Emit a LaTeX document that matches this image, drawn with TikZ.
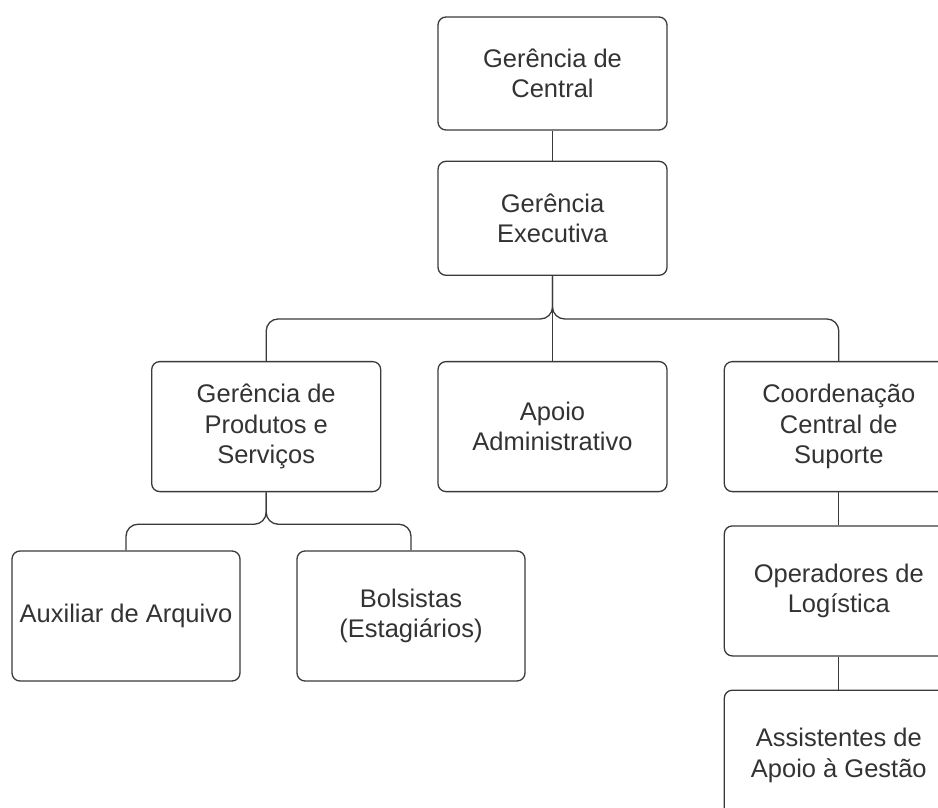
\documentclass[tikz,border=0pt]{standalone}
\usepackage{fontspec}
\setmainfont{Liberation Sans}
\usepackage{xcolor}
\usepackage{tikz}
\usetikzlibrary{positioning}

\definecolor{line}{HTML}{3A3A3A}
\definecolor{txt}{HTML}{333333}

\begin{document}
\begin{tikzpicture}[x=1pt, y=1pt,
        box/.style={rectangle, draw=line, line width=1.3pt, rounded corners=8pt,
        minimum width=229pt, minimum height=130pt, inner sep=0pt, align=center,
        text=txt, font=\fontsize{25.5}{30.5}\selectfont},
        link/.style={draw=line, line width=1.3pt, rounded corners=12pt}]

        \clip (0,0) rectangle (938,-808);

        \node[box, minimum height=113pt] (GC) at (552.5,-73.5) {Gerência de\\Central};
        \node[box, minimum height=114pt, below=30pt of GC] (GE) {Gerência\\Executiva};
        \node[box, below=85pt of GE] (AA) {Apoio\\Administrativo};
        \node[box, left=56pt of AA] (GPS) {Gerência de\\Produtos e\\Serviços};
        \node[box, right=56pt of AA] (CCS) {Coordenação\\Central de\\Suporte};
        \node[box, below=33pt of CCS] (OL) {Operadores de\\Logística};
        \node[box, below=33pt of OL] (AAG) {Assistentes de\\Apoio à Gestão};
        \node[box, minimum width=228pt] (AUX) at (126,-616) {Auxiliar de Arquivo};
        \node[box, minimum width=228pt] (BOL) at (411,-616) {Bolsistas\\(Estagiários)};

        \draw[link] (GC) -- (GE);
        \draw[link] (GE) -- (AA);
        \draw[link] (GE.south) -- ++(0,-43) -| (GPS.north);
        \draw[link] (GE.south) -- ++(0,-43) -| (CCS.north);
        \draw[link] (GPS.south) -- ++(0,-32) -| (AUX.north);
        \draw[link] (GPS.south) -- ++(0,-32) -| (BOL.north);
        \draw[link] (CCS) -- (OL);
        \draw[link] (OL) -- (AAG);

    \end{tikzpicture}
\end{document}
